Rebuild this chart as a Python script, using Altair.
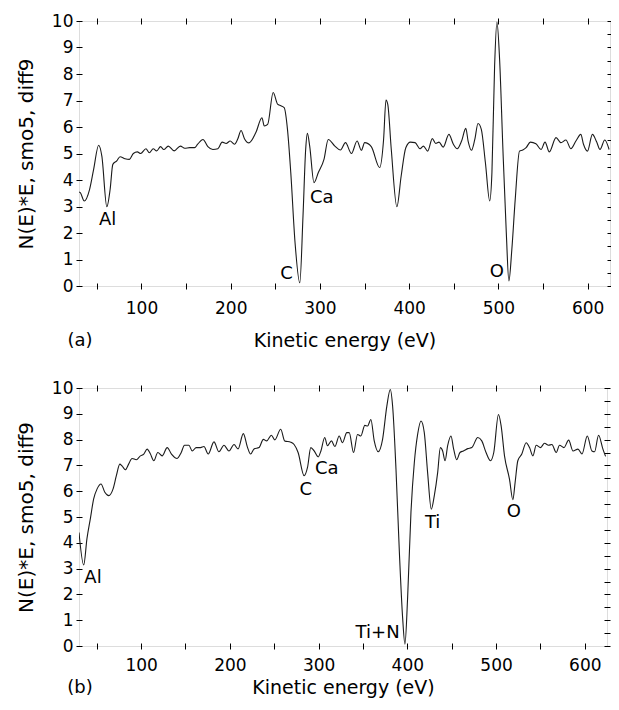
import altair as alt
import pandas as pd

# ---------------- data: panel (a) ----------------
E_a = [30.0, 31.5, 35.9, 41.9, 46.4, 52.0, 55.6, 61.2, 64.9, 67.9, 72.3, 76.0, 81.6, 86.5, 90.9,
       95.4, 99.1, 105.0, 108.8, 113.2, 117.0, 121.4, 125.0, 130.0, 136.6, 143.6, 148.5, 154.0,
       159.5, 163.0, 168.9, 174.4, 180.0, 185.6, 190.4, 194.9, 199.4, 204.2, 208.0, 211.6, 215.4,
       220.5, 228.3, 235.0, 237.6, 241.4, 247.6, 252.5, 256.2, 259.9, 263.6, 267.3, 272.1, 277.4,
       281.0, 284.0, 285.9, 288.5, 293.3, 298.2, 304.5, 309.3, 316.7, 323.0, 328.6, 335.3, 341.6,
       346.4, 350.1, 357.5, 366.9, 371.3, 374.0, 376.0, 379.9, 386.2, 391.0, 396.2, 401.4, 406.6,
       412.2, 415.9, 420.7, 425.9, 429.7, 433.4, 438.1, 444.5, 449.5, 453.8, 458.7, 463.4, 466.0,
       469.8, 473.5, 477.1, 480.8, 485.4, 490.2, 492.7, 495.7, 498.3, 501.3, 505.0, 508.8, 511.7,
       515.0, 518.8, 523.6, 527.3, 531.0, 535.8, 542.0, 547.7, 552.2, 557.0, 564.5, 570.0, 575.6,
       581.2, 586.8, 592.3, 595.3, 599.7, 605.3, 610.1, 613.8, 619.1, 624.0]
V_a = [3.55, 3.52, 3.21, 3.65, 4.40, 5.31, 4.90, 2.99, 3.65, 4.59, 4.72, 4.88, 4.80, 4.78, 5.00,
       5.06, 5.00, 5.18, 5.03, 5.18, 5.10, 5.26, 5.15, 5.28, 5.10, 5.28, 5.20, 5.22,
       5.22, 5.35, 5.53, 5.26, 5.15, 5.18, 5.43, 5.38, 5.47, 5.35, 5.56, 5.87, 5.56,
       5.40, 5.80, 6.35, 6.04, 6.10, 7.30, 6.86, 6.80, 6.73, 5.91, 4.28, 1.63, 0.12,
       2.64, 5.16, 5.76, 5.28, 3.90, 4.28, 4.78, 5.53, 5.28, 5.13, 5.41, 5.00, 5.47,
       5.12, 5.41, 5.26, 4.47, 5.53, 7.02, 6.85, 5.16, 2.99, 4.15, 5.22, 5.43, 5.41,
       5.18, 5.28, 5.09, 5.56, 5.38, 5.43, 5.24, 5.72, 5.35, 5.18, 5.47, 5.95, 5.47,
       5.12, 5.53, 6.13, 5.91, 4.65, 3.21, 4.28, 8.30, 9.96, 8.55, 5.16, 2.01, 0.19,
       1.38, 3.27, 5.09, 5.13, 5.22, 5.43, 5.37, 5.15, 5.43, 5.06, 5.60, 5.41, 5.51,
       5.18, 5.47, 5.72, 5.35, 5.09, 5.72, 5.43, 5.15, 5.51, 5.15]

# ---------------- data: panel (b) ----------------
E_b = [30.0, 35.3, 39.0, 42.8, 46.6, 50.4, 54.8, 59.1, 63.5, 68.4, 72.1, 76.0, 78.5, 82.3, 85.9,
       89.8, 94.6, 99.2, 103.0, 106.8, 110.5, 114.3, 118.8, 123.7, 129.4, 134.2, 140.6, 145.2,
       148.9, 153.8, 157.6, 162.1, 167.0, 170.8, 175.6, 182.1, 187.7, 193.4, 199.0, 204.7, 209.2,
       215.2, 219.7, 223.4, 227.2, 232.9, 237.7, 241.5, 246.8, 250.6, 257.3, 261.8, 268.6, 272.4,
       276.9, 283.7, 287.5, 291.2, 295.0, 299.5, 302.6, 306.9, 310.0, 314.5, 318.3, 323.2, 326.9,
       331.8, 334.5, 339.4, 343.9, 347.6, 352.1, 355.2, 358.9, 362.7, 367.2, 372.1, 376.9, 380.8,
       383.4, 387.2, 391.0, 394.7, 397.3, 400.3, 404.1, 407.9, 411.6, 415.4, 419.1, 422.9, 427.0,
       430.4, 434.2, 437.2, 439.8, 442.5, 445.5, 449.2, 452.2, 455.6, 459.3, 463.2, 468.1, 472.6,
       479.4, 483.9, 488.7, 493.7, 497.4, 502.7, 505.7, 509.5, 515.1, 518.9, 521.5, 524.5, 529.0,
       533.9, 537.7, 541.5, 545.2, 550.1, 554.6, 559.1, 562.9, 567.8, 571.5, 576.5, 581.8, 586.7,
       592.3, 596.8, 602.8, 608.0, 611.0, 615.5, 620.4, 623.4]
V_b = [4.40, 3.14, 4.17, 4.94, 5.71, 6.09, 6.28, 5.96, 5.83, 6.09, 6.60, 7.05, 6.98, 6.83, 7.05,
       7.27, 7.22, 7.37, 7.44, 7.63, 7.44, 7.18, 7.50, 7.37, 7.69, 7.44, 7.27, 7.50,
       7.78, 7.78, 7.56, 7.69, 7.69, 7.73, 7.44, 7.91, 7.53, 7.78, 7.56, 7.81, 7.64,
       8.23, 7.72, 7.44, 7.64, 7.69, 8.01, 7.95, 8.17, 7.99, 8.40, 7.95, 7.90, 7.81,
       7.50, 6.60, 6.92, 7.69, 7.56, 7.33, 7.56, 8.08, 7.76, 7.95, 7.73, 8.14, 7.88,
       8.27, 8.27, 7.50, 8.20, 8.14, 8.55, 8.53, 8.78, 7.95, 7.53, 8.01, 9.30, 9.94,
       9.30, 6.86, 3.65, 1.09, 0.07, 1.86, 5.19, 7.12, 8.20, 8.72, 8.27, 6.70, 5.30,
       5.83, 6.73, 7.69, 7.56, 7.18, 7.78, 8.14, 7.63, 7.22, 7.50, 7.56, 7.65, 7.69,
       8.08, 7.95, 7.50, 7.18, 7.50, 8.97, 8.53, 7.37, 6.47, 5.67, 6.35, 7.18, 7.44,
       7.88, 7.69, 7.37, 7.78, 7.69, 7.86, 7.78, 7.81, 7.50, 7.78, 7.69, 7.98, 7.56,
       7.63, 7.44, 8.14, 7.56, 7.53, 8.17, 7.63, 7.35]

# ---------------- peak annotations ----------------
lab_a_text = ["Al", "C", "Ca", "O"]
lab_a_E = [62.0, 262.5, 302.0, 498.3]
lab_a_V = [2.5, 0.44, 3.33, 0.53]

lab_b_text = ["Al", "C", "Ca", "Ti+N", "Ti", "O"]
lab_b_E = [45.8, 285.5, 309.3, 366.5, 428.5, 520.0]
lab_b_V = [2.65, 6.03, 6.86, 0.52, 4.78, 5.19]

X_TICKS = list(range(50, 601, 50))
Y_TICKS = [i * 0.5 for i in range(21)]

FONT = "DejaVu Sans"
YTITLE = "N(E)*E, smo5, diff9"
XTITLE = "Kinetic energy (eV)"


def panel(E, V, lt, lE, lV, tag, w, h, lpad, tpad, tag_dy):
    df = pd.DataFrame({"E": E, "V": V})
    ldf = pd.DataFrame({"E": lE, "V": lV, "t": lt})
    xs = alt.Scale(domain=[30, 625], nice=False, zero=False)
    ys = alt.Scale(domain=[0, 10], nice=False, zero=False)
    common = dict(domain=False, tickColor="black", tickWidth=1, tickSize=6, offset=-3,
                  labelFont=FONT, labelFontSize=17, labelColor="black",
                  titleFont=FONT, titleColor="black", titleFontWeight="normal", grid=False)
    xb = alt.Axis(orient="bottom", values=X_TICKS, format="d",
                  labelExpr="datum.value % 100 == 0 ? datum.label : ''",
                  labelPadding=lpad, title=XTITLE, titleFontSize=19, titlePadding=tpad,
                  labelFlush=False, labelOverlap=False, **common)
    xt = alt.Axis(orient="top", values=X_TICKS, labels=False, title=None, **common)
    yl = alt.Axis(orient="left", values=Y_TICKS, format="d",
                  labelExpr="datum.value % 1 == 0 ? datum.label : ''",
                  labelPadding=3, title=YTITLE, titleFontSize=20, titlePadding=15,
                  labelOverlap=False, labelFlush=False, **common)
    yr = alt.Axis(orient="right", values=Y_TICKS, labels=False, title=None, **common)

    line = alt.Chart(df).mark_line(color="#1a1a1a", strokeWidth=1.1,
                                   interpolate="monotone", clip=True).encode(
        x=alt.X("E:Q", scale=xs, axis=xb),
        y=alt.Y("V:Q", scale=ys, axis=yl),
    )
    ghost = alt.Chart(df).mark_line(opacity=0, clip=True).encode(
        x=alt.X("E:Q", scale=xs, axis=xt),
        y=alt.Y("V:Q", scale=ys, axis=yr),
    )
    labels = alt.Chart(ldf).mark_text(font=FONT, fontSize=18, color="black",
                                      align="center", baseline="middle").encode(
        x=alt.X("E:Q", scale=xs, axis=None),
        y=alt.Y("V:Q", scale=ys, axis=None),
        text="t:N",
    )
    tagc = alt.Chart(pd.DataFrame({"t": [tag]})).mark_text(
        font=FONT, fontSize=18, color="black", align="center", baseline="middle").encode(
        x=alt.value(1), y=alt.value(h + tag_dy), text="t:N")
    return alt.layer(line, ghost, labels, tagc).resolve_axis(
        x="independent", y="independent").properties(width=w, height=h)


pa = panel(E_a, V_a, lab_a_text, lab_a_E, lab_a_V, "(a)", 531, 265, 11, 15, 55)
pb = panel(E_b, V_b, lab_b_text, lab_b_E, lab_b_V, "(b)", 528, 258, 8, 5, 42)

chart = alt.vconcat(pa, pb, spacing=27).properties(
    padding={"left": 7, "top": 3, "right": -3, "bottom": 2}
).configure_view(stroke="black", strokeWidth=2).configure(background="white")

chart.save("out.html", embed_options={"renderer": "svg", "actions": False})
